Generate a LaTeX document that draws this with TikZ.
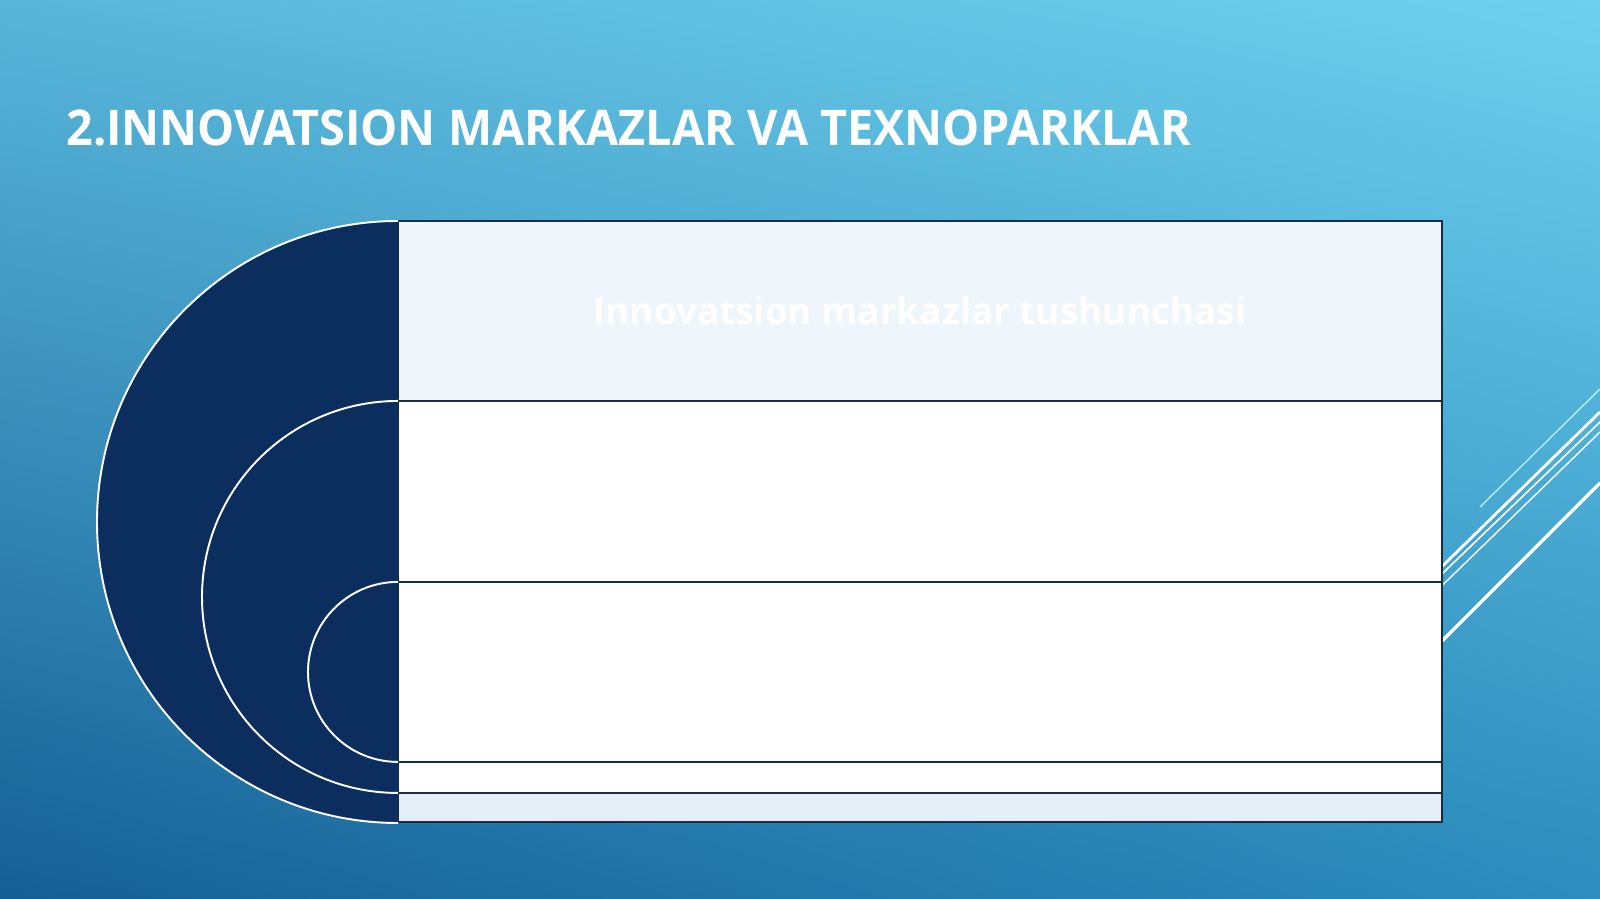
\documentclass[tikz,border=0pt]{standalone}
\usepackage{fontspec}
\setmainfont{Open Sans}
\newfontfamily\titlefont[FakeStretch=0.951]{Open Sans}
\usetikzlibrary{positioning,calc,shadings}
\definecolor{navy}{HTML}{0B2E5F}
\definecolor{rowline}{HTML}{1C2B45}
\definecolor{headfill}{HTML}{EEF5FB}
\definecolor{footfill}{HTML}{E5EDF6}
\definecolor{bgul}{HTML}{58B6DA}
\definecolor{bgur}{HTML}{6DD1EE}
\definecolor{bgll}{HTML}{155F95}
\definecolor{bglr}{HTML}{2C8DBE}
\definecolor{thincyan}{HTML}{B8EEFB}
\tikzstyle{row} = [draw=rowline, line width=1.1pt, rectangle, fill=white,
minimum width=20.88cm, inner sep=0pt, outer sep=0pt, node distance=0pt]
\tikzstyle{half} = [fill=navy]
\tikzstyle{rim} = [draw=white, line width=1.1pt]
\tikzstyle{ray} = [draw=white, line width=1.6pt]

\begin{document}
\begin{tikzpicture}[x=0.02cm, y=0.02cm]
	\useasboundingbox (0,0) rectangle (1600,899);
	\shade[upper left=bgul, upper right=bgur, lower left=bgll, lower right=bglr] (0,0) rectangle (1600,899);
	
	% diagonal strokes on the right
	\draw [ray, draw=thincyan, line width=0.8pt] (1480,392) -- (1600,510);
	\draw [ray] (1420,311) -- (1600,487);
	\draw [ray, line width=0.9pt] (1420,304) -- (1600,477);
	\draw [ray, line width=0.8pt] (1420,292) -- (1600,467);
	\draw [ray, line width=2pt] (1420,236) -- (1600,416);
	
	\node [font=\titlefont\bfseries\fontsize{28}{34}\selectfont, text=white, anchor=base west, inner xsep=0pt] (Title) at (66,753) {2.INNOVATSION MARKAZLAR VA TEXNOPARKLAR};
	
	\node [row, fill=headfill, minimum height=3.6cm, anchor=north west, font=\bfseries\fontsize{21}{25}\selectfont, text=white] (Header) at (398,678) {Innovatsion markazlar tushunchasi};
	\node [row, minimum height=3.62cm, below=of Header] (SecondRow) {};
	\node [row, minimum height=3.6cm, below=of SecondRow] (ThirdRow) {};
	\node [row, minimum height=0.62cm, below=of ThirdRow] (FourthRow) {};
	\node [row, fill=footfill, minimum height=0.58cm, below=of FourthRow] (FifthRow) {};
	
	% half discs on the left
	\fill [half] (Header.north west) arc[start angle=90, end angle=270, radius=301] -- cycle;
	\draw [rim] (Header.north west) arc[start angle=90, end angle=270, radius=301];
	\fill [half] (SecondRow.north west) arc[start angle=90, end angle=270, radius=196] -- cycle;
	\draw [rim] (SecondRow.north west) arc[start angle=90, end angle=270, radius=196];
	\fill [half] (ThirdRow.north west) arc[start angle=90, end angle=270, radius=90] -- cycle;
	\draw [rim] (ThirdRow.north west) arc[start angle=90, end angle=270, radius=90];
	
\end{tikzpicture}
\end{document}
